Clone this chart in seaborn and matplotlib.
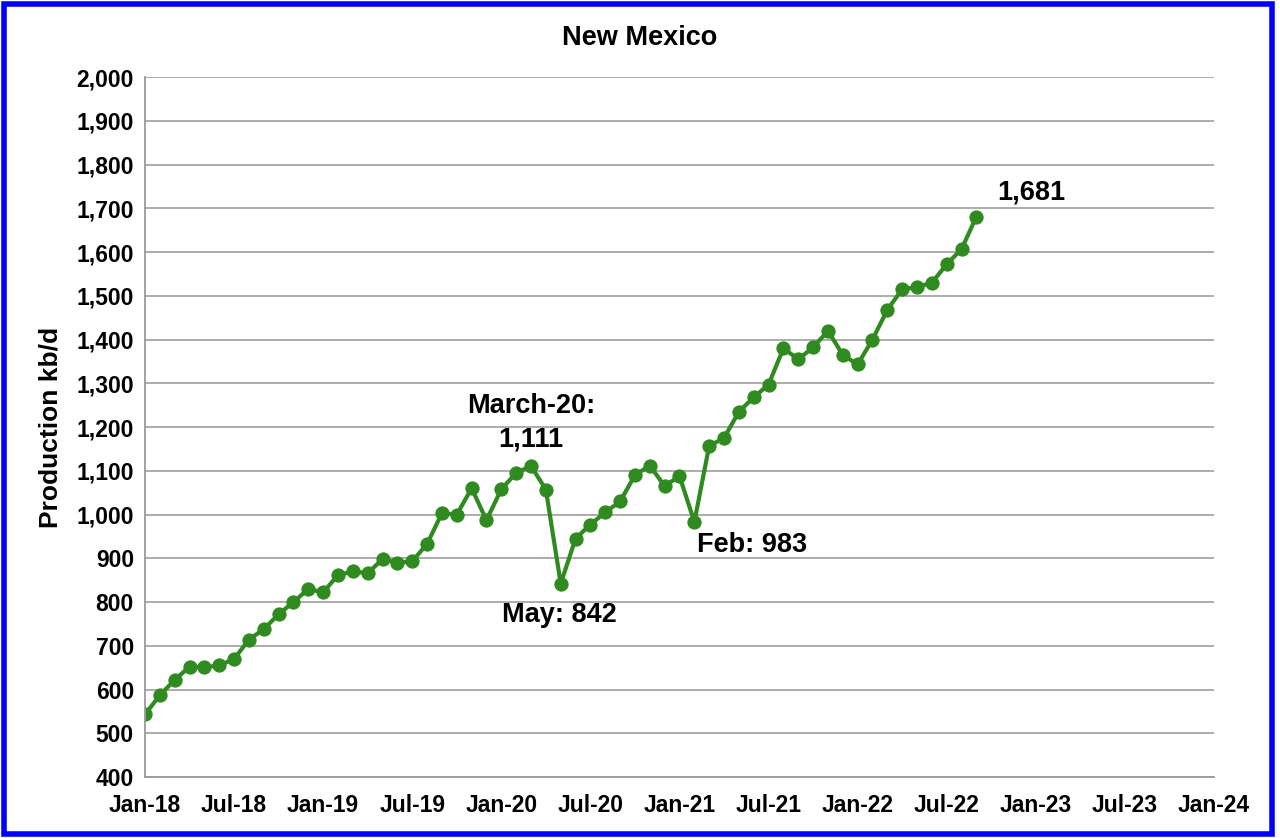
import numpy as np
import pandas as pd
import seaborn as sns
import matplotlib.pyplot as plt
from matplotlib.patches import Rectangle
from matplotlib.ticker import FuncFormatter

sns.set_theme(style="white")
plt.rcParams['font.family'] = ['Liberation Sans', 'DejaVu Sans']
plt.rcParams['text.color'] = 'black'
plt.rcParams['xtick.labelcolor'] = 'black'
plt.rcParams['ytick.labelcolor'] = 'black'
plt.rcParams['axes.labelcolor'] = 'black'

# Monthly New Mexico oil production, Jan-18 .. Sep-22 (kb/d)
production = [543, 587, 622, 652, 651, 655, 670, 714, 738, 772, 800, 830,
              822, 862, 870, 866, 898, 890, 893, 933, 1003, 1000, 1060, 987,
              1058, 1095, 1111, 1057, 842, 945, 977, 1005, 1030, 1090, 1112, 1065,
              1088, 983, 1157, 1175, 1235, 1268, 1297, 1380, 1355, 1382, 1420, 1365,
              1343, 1400, 1468, 1515, 1520, 1530, 1572, 1607, 1681]
month_idx = list(range(len(production)))  # months since Jan-18
tick_labels = ["Jan-18", "Jul-18", "Jan-19", "Jul-19", "Jan-20", "Jul-20", "Jan-21",
               "Jul-21", "Jan-22", "Jul-22", "Jan-23", "Jul-23", "Jan-24"]

d = pd.DataFrame({"month": month_idx, "kbd": production})

fig = plt.figure(figsize=(12.8, 8.38), dpi=100)
ax = fig.add_axes([0.1133, 0.0728, 0.8351, 0.8352])

green = "#2f8a1f"
sns.lineplot(data=d, x="month", y="kbd", ax=ax, color=green, linewidth=3,
             marker="o", markersize=9.5, markeredgecolor=green)

ax.set_xlim(0, 72)
ax.set_ylim(400, 2000)
ax.set_xticks(range(0, 73, 6))
ax.set_xticklabels(tick_labels)
ax.set_yticks(range(400, 2001, 100))
ax.yaxis.set_major_formatter(FuncFormatter(lambda v, p: f"{int(v):,}"))
ax.grid(axis="y", color="#a6a6a6", linewidth=1.3)
ax.set_axisbelow(True)

for s in ["top", "right"]:
    ax.spines[s].set_visible(False)
for s in ["left", "bottom"]:
    ax.spines[s].set_color("#9a9a9a")
    ax.spines[s].set_linewidth(1.3)

ax.tick_params(axis="x", direction="in", length=7, width=1.2, color="#9a9a9a",
               labelsize=16.5, pad=12)
ax.tick_params(axis="y", length=0, labelsize=16.5, pad=8)
for lab in ax.get_xticklabels() + ax.get_yticklabels():
    lab.set_fontweight("bold")

ax.set_xlabel("")
ax.set_ylabel("Production kb/d", fontsize=19, fontweight="bold", labelpad=10)

fig.text(0.5, 0.955, "New Mexico", ha="center", va="center",
         fontsize=19.5, fontweight="bold")

ann = dict(ha="center", va="center", fontsize=19.5, fontweight="bold", color="black")
ax.text(26, 1210, "March-20:\n1,111", linespacing=1.35, **ann)
ax.text(27.9, 770, "May: 842", **ann)
ax.text(40.9, 930, "Feb: 983", **ann)
ax.text(59.7, 1737, "1,681", **ann)

fig.patches.append(Rectangle((0.003, 0.005), 0.991, 0.99, transform=fig.transFigure,
                             fill=False, edgecolor="#0000ff", linewidth=4))

fig.savefig("out.png", dpi=100)
